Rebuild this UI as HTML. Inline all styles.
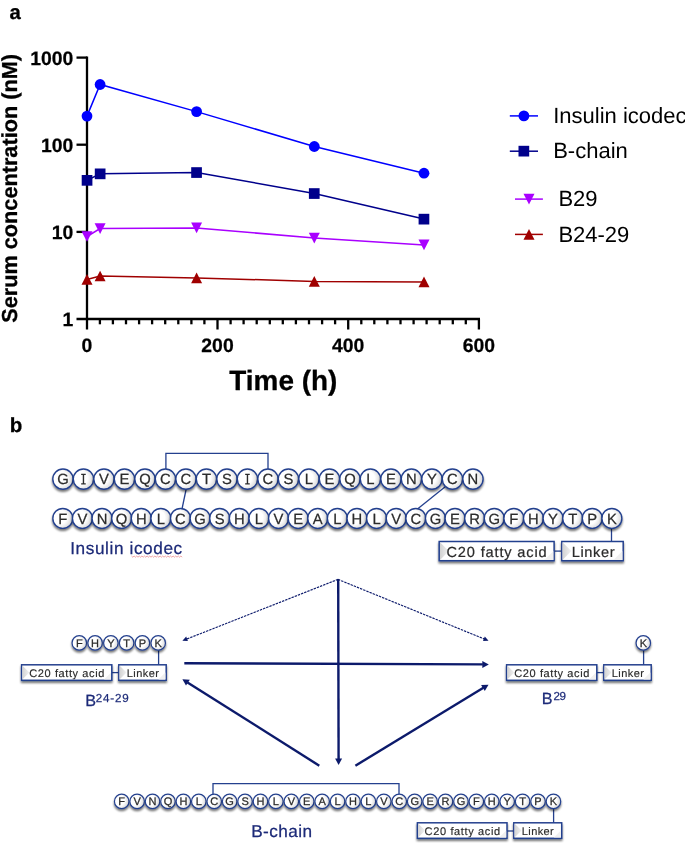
<!DOCTYPE html>
<html><head><meta charset="utf-8"><title>Figure</title>
<style>
html,body{margin:0;padding:0;background:#fff;}
body{width:685px;height:846px;overflow:hidden;font-family:"Liberation Sans",sans-serif;}
svg{display:block;will-change:transform;text-rendering:geometricPrecision;}
</style></head><body>
<svg width="685" height="846" viewBox="0 0 685 846">
<defs>
<radialGradient id="cg" cx="0.36" cy="0.45" r="0.62">
<stop offset="0" stop-color="#ffffff"/><stop offset="0.55" stop-color="#ffffff"/><stop offset="1" stop-color="#d9d9d9"/>
</radialGradient>
<linearGradient id="bg" x1="0" y1="0" x2="1" y2="0">
<stop offset="0" stop-color="#dcdcdc"/><stop offset="0.10" stop-color="#ffffff"/><stop offset="1" stop-color="#ffffff"/>
</linearGradient>
<linearGradient id="wg" x1="0" y1="0" x2="1" y2="0">
<stop offset="0" stop-color="#d2d2d2"/><stop offset="1" stop-color="#f2f2f2"/>
</linearGradient>
<filter id="sh" x="-30%" y="-30%" width="160%" height="180%">
<feGaussianBlur in="SourceAlpha" stdDeviation="1.3" result="b"/>
<feOffset in="b" dx="0.2" dy="1.8" result="o"/>
<feComponentTransfer in="o" result="s"><feFuncA type="linear" slope="0.55"/></feComponentTransfer>
<feMerge><feMergeNode in="s"/><feMergeNode in="SourceGraphic"/></feMerge>
</filter>
</defs>
<g id="chart">
<polyline fill="none" stroke="#0000ff" stroke-width="1.50" points="87.0,116.1 100.1,84.5 196.6,111.6 314.3,146.5 424.0,173.2"/>
<polyline fill="none" stroke="#00008b" stroke-width="1.50" points="87.0,180.3 100.1,173.8 196.6,172.5 314.3,193.5 424.0,219.1"/>
<polyline fill="none" stroke="#a900ff" stroke-width="1.50" points="87.0,236.5 100.1,228.6 196.6,227.9 314.3,238.1 424.0,244.9"/>
<polyline fill="none" stroke="#a00000" stroke-width="1.50" points="87.0,279.4 100.1,276.0 196.6,277.9 314.3,281.4 424.0,281.9"/>
<g stroke="#000" stroke-width="2.3" fill="none" stroke-linecap="butt">
<path d="M87.0 56.5 V329.5"/>
<path d="M76.5 319.0 H480.0"/>
<path d="M76.5 57.6 H87.0"/>
<path d="M76.5 144.7 H87.0"/>
<path d="M76.5 231.9 H87.0"/>
<path d="M99.9 319.0 V324.3"/>
<path d="M112.9 319.0 V324.3"/>
<path d="M126.0 319.0 V324.3"/>
<path d="M139.1 319.0 V324.3"/>
<path d="M152.1 319.0 V324.3"/>
<path d="M165.2 319.0 V324.3"/>
<path d="M178.3 319.0 V324.3"/>
<path d="M191.4 319.0 V324.3"/>
<path d="M204.4 319.0 V324.3"/>
<path d="M217.5 319.0 V329.5"/>
<path d="M230.6 319.0 V324.3"/>
<path d="M243.6 319.0 V324.3"/>
<path d="M256.7 319.0 V324.3"/>
<path d="M269.8 319.0 V324.3"/>
<path d="M282.8 319.0 V324.3"/>
<path d="M295.9 319.0 V324.3"/>
<path d="M309.0 319.0 V324.3"/>
<path d="M322.1 319.0 V324.3"/>
<path d="M335.1 319.0 V324.3"/>
<path d="M348.2 319.0 V329.5"/>
<path d="M361.3 319.0 V324.3"/>
<path d="M374.3 319.0 V324.3"/>
<path d="M387.4 319.0 V324.3"/>
<path d="M400.5 319.0 V324.3"/>
<path d="M413.6 319.0 V324.3"/>
<path d="M426.6 319.0 V324.3"/>
<path d="M439.7 319.0 V324.3"/>
<path d="M452.8 319.0 V324.3"/>
<path d="M465.8 319.0 V324.3"/>
<path d="M478.9 319.0 V329.5"/>
</g>
<circle cx="87.0" cy="116.1" r="5.40" fill="#0000ff"/>
<circle cx="100.1" cy="84.5" r="5.40" fill="#0000ff"/>
<circle cx="196.6" cy="111.6" r="5.40" fill="#0000ff"/>
<circle cx="314.3" cy="146.5" r="5.40" fill="#0000ff"/>
<circle cx="424.0" cy="173.2" r="5.40" fill="#0000ff"/>
<rect x="81.7" y="175.0" width="10.7" height="10.7" fill="#00008b"/>
<rect x="94.8" y="168.5" width="10.7" height="10.7" fill="#00008b"/>
<rect x="191.2" y="167.2" width="10.7" height="10.7" fill="#00008b"/>
<rect x="308.9" y="188.2" width="10.7" height="10.7" fill="#00008b"/>
<rect x="418.6" y="213.8" width="10.7" height="10.7" fill="#00008b"/>
<polygon fill="#a900ff" points="81.5,231.2 92.5,231.2 87.0,241.8"/>
<polygon fill="#a900ff" points="94.6,223.3 105.6,223.3 100.1,233.9"/>
<polygon fill="#a900ff" points="191.1,222.6 202.1,222.6 196.6,233.2"/>
<polygon fill="#a900ff" points="308.8,232.8 319.8,232.8 314.3,243.4"/>
<polygon fill="#a900ff" points="418.5,239.6 429.5,239.6 424.0,250.2"/>
<polygon fill="#a00000" points="81.5,284.7 92.5,284.7 87.0,274.1"/>
<polygon fill="#a00000" points="94.6,281.3 105.6,281.3 100.1,270.7"/>
<polygon fill="#a00000" points="191.1,283.2 202.1,283.2 196.6,272.6"/>
<polygon fill="#a00000" points="308.8,286.7 319.8,286.7 314.3,276.1"/>
<polygon fill="#a00000" points="418.5,287.2 429.5,287.2 424.0,276.6"/>
<g font-family="Liberation Sans, sans-serif" font-weight="bold" font-size="19.4" fill="#000" stroke="#000" stroke-width="0.25">
<text x="73.4" y="65.0" text-anchor="end">1000</text>
<text x="73.4" y="152.1" text-anchor="end">100</text>
<text x="73.4" y="239.3" text-anchor="end">10</text>
<text x="73.4" y="326.4" text-anchor="end">1</text>
<text x="86.8" y="352.0" text-anchor="middle">0</text>
<text x="217.5" y="352.0" text-anchor="middle">200</text>
<text x="348.2" y="352.0" text-anchor="middle">400</text>
<text x="478.9" y="352.0" text-anchor="middle">600</text>
</g>
<text x="283.3" y="390.3" text-anchor="middle" font-family="Liberation Sans, sans-serif" font-weight="bold" font-size="27.9" fill="#000" stroke="#000" stroke-width="0.3">Time (h)</text>
<text transform="translate(16.6,188.4) rotate(-90)" text-anchor="middle" font-family="Liberation Sans, sans-serif" font-weight="bold" font-size="21.7" fill="#000" stroke="#000" stroke-width="0.3">Serum concentration (nM)</text>
<text x="9.6" y="18.8" font-family="Liberation Sans, sans-serif" font-weight="bold" font-size="20.3" fill="#000" stroke="#000" stroke-width="0.3">a</text>
<text x="9.8" y="431.8" font-family="Liberation Sans, sans-serif" font-weight="bold" font-size="20.5" fill="#000" stroke="#000" stroke-width="0.3">b</text>
<path d="M509.8 115.9 H538.0" stroke="#0000ff" stroke-width="1.5"/>
<circle cx="523.9" cy="115.9" r="5.40" fill="#0000ff"/>
<text x="553.2" y="122.8" font-family="Liberation Sans, sans-serif" font-size="22" fill="#000">Insulin icodec</text>
<path d="M509.8 151.2 H538.0" stroke="#00008b" stroke-width="1.5"/>
<rect x="518.5" y="145.8" width="10.7" height="10.7" fill="#00008b"/>
<text x="553.2" y="158.2" font-family="Liberation Sans, sans-serif" font-size="22" fill="#000">B-chain</text>
<path d="M515.0 199.1 H542.9" stroke="#a900ff" stroke-width="1.5"/>
<polygon fill="#a900ff" points="523.5,193.8 534.5,193.8 529.0,204.4"/>
<text x="558.4" y="206.3" font-family="Liberation Sans, sans-serif" font-size="22" fill="#000">B29</text>
<path d="M515.0 234.4 H542.9" stroke="#a00000" stroke-width="1.5"/>
<polygon fill="#a00000" points="523.5,239.7 534.5,239.7 529.0,229.1"/>
<text x="558.4" y="241.6" font-family="Liberation Sans, sans-serif" font-size="22" fill="#000">B24-29</text>
</g>
<g id="diagram">
<path d="M165.9 470 V453.4 H268 V470" fill="none" stroke="#24408e" stroke-width="1.30" />
<path d="M186.4 488 L182 509" fill="none" stroke="#24408e" stroke-width="1.30" />
<path d="M445.5 486.5 L417.5 509" fill="none" stroke="#24408e" stroke-width="1.30" />
<path d="M611.5 527 V542" fill="none" stroke="#24408e" stroke-width="1.30" />
<path d="M554 551.1 H562.5" fill="none" stroke="#24408e" stroke-width="1.30" />
<circle cx="62.95" cy="479.10" r="10.15" fill="url(#cg)" stroke="#24408e" stroke-width="1.40" filter="url(#sh)"/>
<circle cx="83.45" cy="479.10" r="10.15" fill="url(#cg)" stroke="#24408e" stroke-width="1.40" filter="url(#sh)"/>
<circle cx="103.95" cy="479.10" r="10.15" fill="url(#cg)" stroke="#24408e" stroke-width="1.40" filter="url(#sh)"/>
<circle cx="124.45" cy="479.10" r="10.15" fill="url(#cg)" stroke="#24408e" stroke-width="1.40" filter="url(#sh)"/>
<circle cx="144.95" cy="479.10" r="10.15" fill="url(#cg)" stroke="#24408e" stroke-width="1.40" filter="url(#sh)"/>
<circle cx="165.45" cy="479.10" r="10.15" fill="url(#cg)" stroke="#24408e" stroke-width="1.40" filter="url(#sh)"/>
<circle cx="185.95" cy="479.10" r="10.15" fill="url(#cg)" stroke="#24408e" stroke-width="1.40" filter="url(#sh)"/>
<circle cx="206.45" cy="479.10" r="10.15" fill="url(#cg)" stroke="#24408e" stroke-width="1.40" filter="url(#sh)"/>
<circle cx="226.95" cy="479.10" r="10.15" fill="url(#cg)" stroke="#24408e" stroke-width="1.40" filter="url(#sh)"/>
<circle cx="247.45" cy="479.10" r="10.15" fill="url(#cg)" stroke="#24408e" stroke-width="1.40" filter="url(#sh)"/>
<circle cx="267.95" cy="479.10" r="10.15" fill="url(#cg)" stroke="#24408e" stroke-width="1.40" filter="url(#sh)"/>
<circle cx="288.45" cy="479.10" r="10.15" fill="url(#cg)" stroke="#24408e" stroke-width="1.40" filter="url(#sh)"/>
<circle cx="308.95" cy="479.10" r="10.15" fill="url(#cg)" stroke="#24408e" stroke-width="1.40" filter="url(#sh)"/>
<circle cx="329.45" cy="479.10" r="10.15" fill="url(#cg)" stroke="#24408e" stroke-width="1.40" filter="url(#sh)"/>
<circle cx="349.95" cy="479.10" r="10.15" fill="url(#cg)" stroke="#24408e" stroke-width="1.40" filter="url(#sh)"/>
<circle cx="370.45" cy="479.10" r="10.15" fill="url(#cg)" stroke="#24408e" stroke-width="1.40" filter="url(#sh)"/>
<circle cx="390.95" cy="479.10" r="10.15" fill="url(#cg)" stroke="#24408e" stroke-width="1.40" filter="url(#sh)"/>
<circle cx="411.45" cy="479.10" r="10.15" fill="url(#cg)" stroke="#24408e" stroke-width="1.40" filter="url(#sh)"/>
<circle cx="431.95" cy="479.10" r="10.15" fill="url(#cg)" stroke="#24408e" stroke-width="1.40" filter="url(#sh)"/>
<circle cx="452.45" cy="479.10" r="10.15" fill="url(#cg)" stroke="#24408e" stroke-width="1.40" filter="url(#sh)"/>
<circle cx="472.95" cy="479.10" r="10.15" fill="url(#cg)" stroke="#24408e" stroke-width="1.40" filter="url(#sh)"/>
<g font-family="Liberation Sans, sans-serif" font-size="14.80" fill="#2b2b2b" stroke="#2b2b2b" stroke-width="0.25" text-anchor="middle">
<text x="62.95" y="484.40">G</text>
<path stroke="none" d="M81.16 473.80 h4.59 v1.26 h-1.60 v8.08 h1.60 v1.26 h-4.59 v-1.26 h1.60 v-8.08 h-1.60 z"/>
<text x="103.95" y="484.40">V</text>
<text x="124.45" y="484.40">E</text>
<text x="144.95" y="484.40">Q</text>
<text x="165.45" y="484.40">C</text>
<text x="185.95" y="484.40">C</text>
<text x="206.45" y="484.40">T</text>
<text x="226.95" y="484.40">S</text>
<path stroke="none" d="M245.16 473.80 h4.59 v1.26 h-1.60 v8.08 h1.60 v1.26 h-4.59 v-1.26 h1.60 v-8.08 h-1.60 z"/>
<text x="267.95" y="484.40">C</text>
<text x="288.45" y="484.40">S</text>
<text x="308.95" y="484.40">L</text>
<text x="329.45" y="484.40">E</text>
<text x="349.95" y="484.40">Q</text>
<text x="370.45" y="484.40">L</text>
<text x="390.95" y="484.40">E</text>
<text x="411.45" y="484.40">N</text>
<text x="431.95" y="484.40">Y</text>
<text x="452.45" y="484.40">C</text>
<text x="472.95" y="484.40">N</text>
</g>
<circle cx="62.80" cy="518.40" r="9.95" fill="url(#cg)" stroke="#24408e" stroke-width="1.40" filter="url(#sh)"/>
<circle cx="82.41" cy="518.40" r="9.95" fill="url(#cg)" stroke="#24408e" stroke-width="1.40" filter="url(#sh)"/>
<circle cx="102.02" cy="518.40" r="9.95" fill="url(#cg)" stroke="#24408e" stroke-width="1.40" filter="url(#sh)"/>
<circle cx="121.63" cy="518.40" r="9.95" fill="url(#cg)" stroke="#24408e" stroke-width="1.40" filter="url(#sh)"/>
<circle cx="141.24" cy="518.40" r="9.95" fill="url(#cg)" stroke="#24408e" stroke-width="1.40" filter="url(#sh)"/>
<circle cx="160.85" cy="518.40" r="9.95" fill="url(#cg)" stroke="#24408e" stroke-width="1.40" filter="url(#sh)"/>
<circle cx="180.46" cy="518.40" r="9.95" fill="url(#cg)" stroke="#24408e" stroke-width="1.40" filter="url(#sh)"/>
<circle cx="200.07" cy="518.40" r="9.95" fill="url(#cg)" stroke="#24408e" stroke-width="1.40" filter="url(#sh)"/>
<circle cx="219.68" cy="518.40" r="9.95" fill="url(#cg)" stroke="#24408e" stroke-width="1.40" filter="url(#sh)"/>
<circle cx="239.29" cy="518.40" r="9.95" fill="url(#cg)" stroke="#24408e" stroke-width="1.40" filter="url(#sh)"/>
<circle cx="258.90" cy="518.40" r="9.95" fill="url(#cg)" stroke="#24408e" stroke-width="1.40" filter="url(#sh)"/>
<circle cx="278.51" cy="518.40" r="9.95" fill="url(#cg)" stroke="#24408e" stroke-width="1.40" filter="url(#sh)"/>
<circle cx="298.12" cy="518.40" r="9.95" fill="url(#cg)" stroke="#24408e" stroke-width="1.40" filter="url(#sh)"/>
<circle cx="317.73" cy="518.40" r="9.95" fill="url(#cg)" stroke="#24408e" stroke-width="1.40" filter="url(#sh)"/>
<circle cx="337.34" cy="518.40" r="9.95" fill="url(#cg)" stroke="#24408e" stroke-width="1.40" filter="url(#sh)"/>
<circle cx="356.95" cy="518.40" r="9.95" fill="url(#cg)" stroke="#24408e" stroke-width="1.40" filter="url(#sh)"/>
<circle cx="376.56" cy="518.40" r="9.95" fill="url(#cg)" stroke="#24408e" stroke-width="1.40" filter="url(#sh)"/>
<circle cx="396.17" cy="518.40" r="9.95" fill="url(#cg)" stroke="#24408e" stroke-width="1.40" filter="url(#sh)"/>
<circle cx="415.78" cy="518.40" r="9.95" fill="url(#cg)" stroke="#24408e" stroke-width="1.40" filter="url(#sh)"/>
<circle cx="435.39" cy="518.40" r="9.95" fill="url(#cg)" stroke="#24408e" stroke-width="1.40" filter="url(#sh)"/>
<circle cx="455.00" cy="518.40" r="9.95" fill="url(#cg)" stroke="#24408e" stroke-width="1.40" filter="url(#sh)"/>
<circle cx="474.61" cy="518.40" r="9.95" fill="url(#cg)" stroke="#24408e" stroke-width="1.40" filter="url(#sh)"/>
<circle cx="494.22" cy="518.40" r="9.95" fill="url(#cg)" stroke="#24408e" stroke-width="1.40" filter="url(#sh)"/>
<circle cx="513.83" cy="518.40" r="9.95" fill="url(#cg)" stroke="#24408e" stroke-width="1.40" filter="url(#sh)"/>
<circle cx="533.44" cy="518.40" r="9.95" fill="url(#cg)" stroke="#24408e" stroke-width="1.40" filter="url(#sh)"/>
<circle cx="553.05" cy="518.40" r="9.95" fill="url(#cg)" stroke="#24408e" stroke-width="1.40" filter="url(#sh)"/>
<circle cx="572.66" cy="518.40" r="9.95" fill="url(#cg)" stroke="#24408e" stroke-width="1.40" filter="url(#sh)"/>
<circle cx="592.27" cy="518.40" r="9.95" fill="url(#cg)" stroke="#24408e" stroke-width="1.40" filter="url(#sh)"/>
<circle cx="611.88" cy="518.40" r="9.95" fill="url(#cg)" stroke="#24408e" stroke-width="1.40" filter="url(#sh)"/>
<g font-family="Liberation Sans, sans-serif" font-size="14.80" fill="#2b2b2b" stroke="#2b2b2b" stroke-width="0.25" text-anchor="middle">
<text x="62.80" y="523.70">F</text>
<text x="82.41" y="523.70">V</text>
<text x="102.02" y="523.70">N</text>
<text x="121.63" y="523.70">Q</text>
<text x="141.24" y="523.70">H</text>
<text x="160.85" y="523.70">L</text>
<text x="180.46" y="523.70">C</text>
<text x="200.07" y="523.70">G</text>
<text x="219.68" y="523.70">S</text>
<text x="239.29" y="523.70">H</text>
<text x="258.90" y="523.70">L</text>
<text x="278.51" y="523.70">V</text>
<text x="298.12" y="523.70">E</text>
<text x="317.73" y="523.70">A</text>
<text x="337.34" y="523.70">L</text>
<text x="356.95" y="523.70">H</text>
<text x="376.56" y="523.70">L</text>
<text x="396.17" y="523.70">V</text>
<text x="415.78" y="523.70">C</text>
<text x="435.39" y="523.70">G</text>
<text x="455.00" y="523.70">E</text>
<text x="474.61" y="523.70">R</text>
<text x="494.22" y="523.70">G</text>
<text x="513.83" y="523.70">F</text>
<text x="533.44" y="523.70">H</text>
<text x="553.05" y="523.70">Y</text>
<text x="572.66" y="523.70">T</text>
<text x="592.27" y="523.70">P</text>
<text x="611.88" y="523.70">K</text>
</g>
<rect x="439.2" y="541.5" width="114.9" height="19.2" fill="#fff" stroke="#24408e" stroke-width="1.5" filter="url(#sh)"/>
<polygon points="440.0,542.2 448.8,551.0 440.0,559.9" fill="url(#wg)"/>
<polygon points="553.4,559.9 544.5,559.9 553.4,551.0" fill="#f0f0f0"/>
<text x="446.4" y="556.5" font-family="Liberation Sans, sans-serif" font-size="14.60" fill="#2b2b2b" stroke="#2b2b2b" stroke-width="0.22" textLength="100.3" lengthAdjust="spacing">C20 fatty acid</text>
<rect x="561.8" y="541.5" width="61.4" height="19.2" fill="#fff" stroke="#24408e" stroke-width="1.5" filter="url(#sh)"/>
<polygon points="562.5,542.2 571.3,551.0 562.5,559.9" fill="url(#wg)"/>
<polygon points="622.4,559.9 613.5,559.9 622.4,551.0" fill="#f0f0f0"/>
<text x="571.7" y="556.5" font-family="Liberation Sans, sans-serif" font-size="14.60" fill="#2b2b2b" stroke="#2b2b2b" stroke-width="0.22" textLength="42.8" lengthAdjust="spacing">Linker</text>
<text x="70.2" y="554.3" font-family="Liberation Sans, sans-serif" font-size="17.2" fill="#1c2a78" stroke="#1c2a78" stroke-width="0.25" textLength="112" lengthAdjust="spacing">Insulin icodec</text>
<polyline points="131.5,556.0 132.8,557.2 134.1,556.0 135.4,557.2 136.7,556.0 138.0,557.2 139.3,556.0 140.6,557.2 141.9,556.0 143.2,557.2 144.5,556.0 145.8,557.2 147.1,556.0 148.4,557.2 149.7,556.0 151.0,557.2 152.3,556.0 153.6,557.2 154.9,556.0 156.2,557.2 157.5,556.0 158.8,557.2 160.1,556.0 161.4,557.2 162.7,556.0 164.0,557.2 165.3,556.0 166.6,557.2 167.9,556.0 169.2,557.2 170.5,556.0 171.8,557.2 173.1,556.0 174.4,557.2 175.7,556.0 177.0,557.2 178.3,556.0 179.6,557.2 180.9,556.0 182.2,557.2" fill="none" stroke="#e86a6a" stroke-width="0.6"/>
<path d="M158.6 649 V665" fill="none" stroke="#24408e" stroke-width="1.30" />
<path d="M112 672.6 H119" fill="none" stroke="#24408e" stroke-width="1.30" />
<circle cx="79.30" cy="642.90" r="7.25" fill="url(#cg)" stroke="#24408e" stroke-width="1.20" filter="url(#sh)"/>
<circle cx="95.08" cy="642.90" r="7.25" fill="url(#cg)" stroke="#24408e" stroke-width="1.20" filter="url(#sh)"/>
<circle cx="110.86" cy="642.90" r="7.25" fill="url(#cg)" stroke="#24408e" stroke-width="1.20" filter="url(#sh)"/>
<circle cx="126.64" cy="642.90" r="7.25" fill="url(#cg)" stroke="#24408e" stroke-width="1.20" filter="url(#sh)"/>
<circle cx="142.42" cy="642.90" r="7.25" fill="url(#cg)" stroke="#24408e" stroke-width="1.20" filter="url(#sh)"/>
<circle cx="158.20" cy="642.90" r="7.25" fill="url(#cg)" stroke="#24408e" stroke-width="1.20" filter="url(#sh)"/>
<g font-family="Liberation Sans, sans-serif" font-size="11.00" fill="#2b2b2b" stroke="#2b2b2b" stroke-width="0.28" text-anchor="middle">
<text x="79.30" y="646.84">F</text>
<text x="95.08" y="646.84">H</text>
<text x="110.86" y="646.84">Y</text>
<text x="126.64" y="646.84">T</text>
<text x="142.42" y="646.84">P</text>
<text x="158.20" y="646.84">K</text>
</g>
<rect x="21.6" y="664.8" width="90.2" height="15.5" fill="#fff" stroke="#24408e" stroke-width="1.5" filter="url(#sh)"/>
<polygon points="22.3,665.5 29.3,672.5 22.3,679.5" fill="url(#wg)"/>
<polygon points="111.0,679.5 104.0,679.5 111.0,672.5" fill="#f0f0f0"/>
<text x="29.3" y="677.1" font-family="Liberation Sans, sans-serif" font-size="11.00" fill="#2b2b2b" stroke="#2b2b2b" stroke-width="0.16" textLength="75.0" lengthAdjust="spacing">C20 fatty acid</text>
<rect x="118.8" y="664.8" width="47.4" height="15.5" fill="#fff" stroke="#24408e" stroke-width="1.5" filter="url(#sh)"/>
<polygon points="119.5,665.5 126.5,672.5 119.5,679.5" fill="url(#wg)"/>
<polygon points="165.4,679.5 158.4,679.5 165.4,672.5" fill="#f0f0f0"/>
<text x="126.7" y="677.1" font-family="Liberation Sans, sans-serif" font-size="11.00" fill="#2b2b2b" stroke="#2b2b2b" stroke-width="0.16" textLength="32.2" lengthAdjust="spacing">Linker</text>
<text x="85.2" y="706.4" font-family="Liberation Sans, sans-serif" font-size="16.2" fill="#1c2a78" stroke="#1c2a78" stroke-width="0.25">B</text>
<text x="95.8" y="702.3" font-family="Liberation Sans, sans-serif" font-size="11.6" fill="#1c2a78" stroke="#1c2a78" stroke-width="0.25" textLength="32.8" lengthAdjust="spacing">24-29</text>
<path d="M643.6 649 V665" fill="none" stroke="#24408e" stroke-width="1.30" />
<path d="M597 672.6 H604" fill="none" stroke="#24408e" stroke-width="1.30" />
<circle cx="643.30" cy="642.90" r="7.25" fill="url(#cg)" stroke="#24408e" stroke-width="1.20" filter="url(#sh)"/>
<g font-family="Liberation Sans, sans-serif" font-size="11.00" fill="#2b2b2b" stroke="#2b2b2b" stroke-width="0.28" text-anchor="middle">
<text x="643.30" y="646.84">K</text>
</g>
<rect x="506.6" y="664.8" width="90.2" height="15.5" fill="#fff" stroke="#24408e" stroke-width="1.5" filter="url(#sh)"/>
<polygon points="507.3,665.5 514.3,672.5 507.3,679.5" fill="url(#wg)"/>
<polygon points="596.0,679.5 589.0,679.5 596.0,672.5" fill="#f0f0f0"/>
<text x="514.3" y="677.1" font-family="Liberation Sans, sans-serif" font-size="11.00" fill="#2b2b2b" stroke="#2b2b2b" stroke-width="0.16" textLength="75.0" lengthAdjust="spacing">C20 fatty acid</text>
<rect x="603.8" y="664.8" width="47.4" height="15.5" fill="#fff" stroke="#24408e" stroke-width="1.5" filter="url(#sh)"/>
<polygon points="604.5,665.5 611.5,672.5 604.5,679.5" fill="url(#wg)"/>
<polygon points="650.4,679.5 643.4,679.5 650.4,672.5" fill="#f0f0f0"/>
<text x="611.7" y="677.1" font-family="Liberation Sans, sans-serif" font-size="11.00" fill="#2b2b2b" stroke="#2b2b2b" stroke-width="0.16" textLength="32.2" lengthAdjust="spacing">Linker</text>
<text x="541.7" y="703.9" font-family="Liberation Sans, sans-serif" font-size="16.2" fill="#1c2a78" stroke="#1c2a78" stroke-width="0.25">B</text>
<text x="553.4" y="699.6" font-family="Liberation Sans, sans-serif" font-size="11.6" fill="#1c2a78" stroke="#1c2a78" stroke-width="0.25" textLength="12.6" lengthAdjust="spacing">29</text>
<path d="M213 795 V783.6 H399 V795" fill="none" stroke="#24408e" stroke-width="1.30" />
<path d="M553.6 807 V823" fill="none" stroke="#24408e" stroke-width="1.30" />
<path d="M507 831 H514" fill="none" stroke="#24408e" stroke-width="1.30" />
<circle cx="121.70" cy="801.40" r="7.25" fill="url(#cg)" stroke="#24408e" stroke-width="1.20" filter="url(#sh)"/>
<circle cx="137.12" cy="801.40" r="7.25" fill="url(#cg)" stroke="#24408e" stroke-width="1.20" filter="url(#sh)"/>
<circle cx="152.54" cy="801.40" r="7.25" fill="url(#cg)" stroke="#24408e" stroke-width="1.20" filter="url(#sh)"/>
<circle cx="167.96" cy="801.40" r="7.25" fill="url(#cg)" stroke="#24408e" stroke-width="1.20" filter="url(#sh)"/>
<circle cx="183.38" cy="801.40" r="7.25" fill="url(#cg)" stroke="#24408e" stroke-width="1.20" filter="url(#sh)"/>
<circle cx="198.80" cy="801.40" r="7.25" fill="url(#cg)" stroke="#24408e" stroke-width="1.20" filter="url(#sh)"/>
<circle cx="214.22" cy="801.40" r="7.25" fill="url(#cg)" stroke="#24408e" stroke-width="1.20" filter="url(#sh)"/>
<circle cx="229.64" cy="801.40" r="7.25" fill="url(#cg)" stroke="#24408e" stroke-width="1.20" filter="url(#sh)"/>
<circle cx="245.06" cy="801.40" r="7.25" fill="url(#cg)" stroke="#24408e" stroke-width="1.20" filter="url(#sh)"/>
<circle cx="260.48" cy="801.40" r="7.25" fill="url(#cg)" stroke="#24408e" stroke-width="1.20" filter="url(#sh)"/>
<circle cx="275.90" cy="801.40" r="7.25" fill="url(#cg)" stroke="#24408e" stroke-width="1.20" filter="url(#sh)"/>
<circle cx="291.32" cy="801.40" r="7.25" fill="url(#cg)" stroke="#24408e" stroke-width="1.20" filter="url(#sh)"/>
<circle cx="306.74" cy="801.40" r="7.25" fill="url(#cg)" stroke="#24408e" stroke-width="1.20" filter="url(#sh)"/>
<circle cx="322.16" cy="801.40" r="7.25" fill="url(#cg)" stroke="#24408e" stroke-width="1.20" filter="url(#sh)"/>
<circle cx="337.58" cy="801.40" r="7.25" fill="url(#cg)" stroke="#24408e" stroke-width="1.20" filter="url(#sh)"/>
<circle cx="353.00" cy="801.40" r="7.25" fill="url(#cg)" stroke="#24408e" stroke-width="1.20" filter="url(#sh)"/>
<circle cx="368.42" cy="801.40" r="7.25" fill="url(#cg)" stroke="#24408e" stroke-width="1.20" filter="url(#sh)"/>
<circle cx="383.84" cy="801.40" r="7.25" fill="url(#cg)" stroke="#24408e" stroke-width="1.20" filter="url(#sh)"/>
<circle cx="399.26" cy="801.40" r="7.25" fill="url(#cg)" stroke="#24408e" stroke-width="1.20" filter="url(#sh)"/>
<circle cx="414.68" cy="801.40" r="7.25" fill="url(#cg)" stroke="#24408e" stroke-width="1.20" filter="url(#sh)"/>
<circle cx="430.10" cy="801.40" r="7.25" fill="url(#cg)" stroke="#24408e" stroke-width="1.20" filter="url(#sh)"/>
<circle cx="445.52" cy="801.40" r="7.25" fill="url(#cg)" stroke="#24408e" stroke-width="1.20" filter="url(#sh)"/>
<circle cx="460.94" cy="801.40" r="7.25" fill="url(#cg)" stroke="#24408e" stroke-width="1.20" filter="url(#sh)"/>
<circle cx="476.36" cy="801.40" r="7.25" fill="url(#cg)" stroke="#24408e" stroke-width="1.20" filter="url(#sh)"/>
<circle cx="491.78" cy="801.40" r="7.25" fill="url(#cg)" stroke="#24408e" stroke-width="1.20" filter="url(#sh)"/>
<circle cx="507.20" cy="801.40" r="7.25" fill="url(#cg)" stroke="#24408e" stroke-width="1.20" filter="url(#sh)"/>
<circle cx="522.62" cy="801.40" r="7.25" fill="url(#cg)" stroke="#24408e" stroke-width="1.20" filter="url(#sh)"/>
<circle cx="538.04" cy="801.40" r="7.25" fill="url(#cg)" stroke="#24408e" stroke-width="1.20" filter="url(#sh)"/>
<circle cx="553.46" cy="801.40" r="7.25" fill="url(#cg)" stroke="#24408e" stroke-width="1.20" filter="url(#sh)"/>
<g font-family="Liberation Sans, sans-serif" font-size="11.00" fill="#2b2b2b" stroke="#2b2b2b" stroke-width="0.28" text-anchor="middle">
<text x="121.70" y="805.34">F</text>
<text x="137.12" y="805.34">V</text>
<text x="152.54" y="805.34">N</text>
<text x="167.96" y="805.34">Q</text>
<text x="183.38" y="805.34">H</text>
<text x="198.80" y="805.34">L</text>
<text x="214.22" y="805.34">C</text>
<text x="229.64" y="805.34">G</text>
<text x="245.06" y="805.34">S</text>
<text x="260.48" y="805.34">H</text>
<text x="275.90" y="805.34">L</text>
<text x="291.32" y="805.34">V</text>
<text x="306.74" y="805.34">E</text>
<text x="322.16" y="805.34">A</text>
<text x="337.58" y="805.34">L</text>
<text x="353.00" y="805.34">H</text>
<text x="368.42" y="805.34">L</text>
<text x="383.84" y="805.34">V</text>
<text x="399.26" y="805.34">C</text>
<text x="414.68" y="805.34">G</text>
<text x="430.10" y="805.34">E</text>
<text x="445.52" y="805.34">R</text>
<text x="460.94" y="805.34">G</text>
<text x="476.36" y="805.34">F</text>
<text x="491.78" y="805.34">H</text>
<text x="507.20" y="805.34">Y</text>
<text x="522.62" y="805.34">T</text>
<text x="538.04" y="805.34">P</text>
<text x="553.46" y="805.34">K</text>
</g>
<rect x="417.4" y="822.8" width="89.6" height="15.5" fill="#fff" stroke="#24408e" stroke-width="1.5" filter="url(#sh)"/>
<polygon points="418.1,823.5 425.1,830.5 418.1,837.5" fill="url(#wg)"/>
<polygon points="506.2,837.5 499.2,837.5 506.2,830.5" fill="#f0f0f0"/>
<text x="424.6" y="834.6" font-family="Liberation Sans, sans-serif" font-size="11.00" fill="#2b2b2b" stroke="#2b2b2b" stroke-width="0.16" textLength="75.6" lengthAdjust="spacing">C20 fatty acid</text>
<rect x="513.8" y="822.8" width="47.9" height="15.5" fill="#fff" stroke="#24408e" stroke-width="1.5" filter="url(#sh)"/>
<polygon points="514.5,823.5 521.5,830.5 514.5,837.5" fill="url(#wg)"/>
<polygon points="560.9,837.5 553.9,837.5 560.9,830.5" fill="#f0f0f0"/>
<text x="521.8" y="834.6" font-family="Liberation Sans, sans-serif" font-size="11.00" fill="#2b2b2b" stroke="#2b2b2b" stroke-width="0.16" textLength="31.9" lengthAdjust="spacing">Linker</text>
<text x="251.2" y="837.3" font-family="Liberation Sans, sans-serif" font-size="17.2" fill="#1c2a78" stroke="#1c2a78" stroke-width="0.25" textLength="60.8" lengthAdjust="spacing">B-chain</text>
<path d="M338.2 579.2 L338.6 759.0" stroke="#0c1a6b" stroke-width="2.40" fill="none" />
<polygon fill="#0c1a6b" points="338.6,765.0 335.1,758.5 342.1,758.5"/>
<path d="M184.3 663.3 L482.8 664.4" stroke="#0c1a6b" stroke-width="2.40" fill="none" />
<polygon fill="#0c1a6b" points="488.8,664.4 482.3,667.9 482.3,660.9"/>
<path d="M319.3 765.7 L187.5 682.4" stroke="#0c1a6b" stroke-width="2.40" fill="none" />
<polygon fill="#0c1a6b" points="182.4,679.2 189.8,679.7 186.0,685.6"/>
<path d="M355.4 765.7 L483.4 687.8" stroke="#0c1a6b" stroke-width="2.40" fill="none" />
<polygon fill="#0c1a6b" points="488.5,684.7 484.8,691.1 481.1,685.1"/>
<path d="M338.0 579.4 L186.6 639.1" stroke="#0c1a6b" stroke-width="1.15" fill="none" stroke-dasharray="2.4 1.0"/>
<polygon fill="#0c1a6b" points="182.4,640.7 186.2,636.6 187.9,641.1"/>
<path d="M338.0 579.4 L484.3 639.0" stroke="#0c1a6b" stroke-width="1.15" fill="none" stroke-dasharray="2.4 1.0"/>
<polygon fill="#0c1a6b" points="488.5,640.7 483.0,641.0 484.8,636.6"/>
</g>
</svg>
</body></html>
